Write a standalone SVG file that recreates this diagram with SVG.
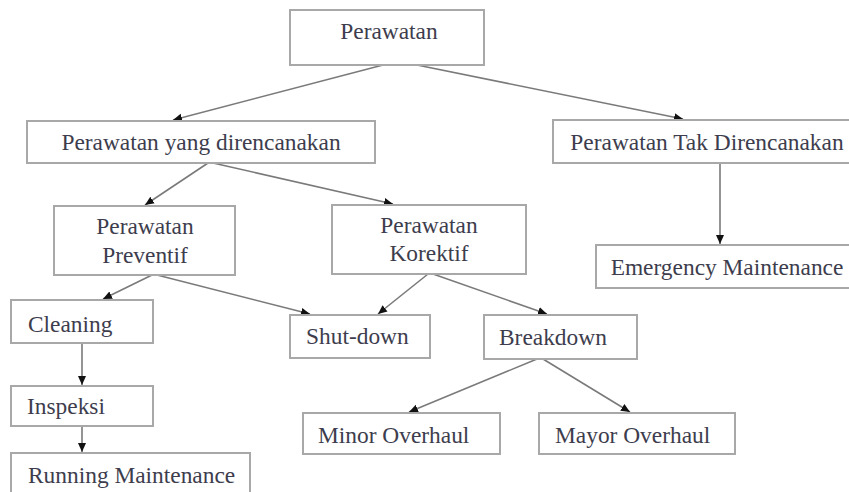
<svg xmlns="http://www.w3.org/2000/svg" width="849" height="492" viewBox="0 0 849 492">
<style>
.box{fill:#fff;stroke:#a8a8a8;stroke-width:2}
.t{font-family:"Liberation Serif","Times New Roman",serif;font-size:23.4px;fill:#3d3d4d}
.c{text-anchor:middle}
.ln{stroke:#7a7a7a;stroke-width:1.6;fill:none;marker-end:url(#ah)}
</style>
<defs>
<marker id="ah" markerUnits="userSpaceOnUse" markerWidth="10" markerHeight="10" viewBox="0 0 10 10" refX="9" refY="5" orient="auto">
<path d="M0,1 L9,5 L0,9 Z" fill="#111"/>
</marker>
</defs>
<rect width="849" height="492" fill="#fff"/>
<g id="connectors">
<line class="ln" x1="383" y1="65" x2="173" y2="120"/>
<line class="ln" x1="417" y1="65" x2="683" y2="119"/>
<line class="ln" x1="208" y1="163" x2="145" y2="205"/>
<line class="ln" x1="213" y1="163" x2="393" y2="204"/>
<line class="ln" x1="720" y1="163" x2="720" y2="244"/>
<line class="ln" x1="152" y1="275" x2="103" y2="299"/>
<line class="ln" x1="157" y1="275" x2="310" y2="314"/>
<line class="ln" x1="428" y1="274" x2="378" y2="314"/>
<line class="ln" x1="433" y1="274" x2="547" y2="314"/>
<line class="ln" x1="82" y1="343" x2="82" y2="385"/>
<line class="ln" x1="82" y1="426" x2="82" y2="452"/>
<line class="ln" x1="537" y1="359" x2="409" y2="412"/>
<line class="ln" x1="543" y1="359" x2="630" y2="412"/>
</g>
<g id="n-perawatan"><rect class="box" x="290" y="10" width="194" height="55"/><text class="t c" x="389" y="39">Perawatan</text></g>
<g id="n-direncanakan"><rect class="box" x="27" y="121" width="348" height="42"/><text class="t c" x="201" y="150">Perawatan yang direncanakan</text></g>
<g id="n-tak"><rect class="box" x="553" y="120" width="310" height="43"/><text class="t c" x="707" y="150">Perawatan Tak Direncanakan</text></g>
<g id="n-preventif"><rect class="box" x="54" y="206" width="181" height="69"/><text class="t c" x="145" y="234">Perawatan</text><text class="t c" x="145" y="263">Preventif</text></g>
<g id="n-korektif"><rect class="box" x="332" y="205" width="194" height="69"/><text class="t c" x="429" y="233">Perawatan</text><text class="t c" x="429" y="261">Korektif</text></g>
<g id="n-emergency"><rect class="box" x="596" y="245" width="267" height="43"/><text class="t c" x="727" y="275">Emergency Maintenance</text></g>
<g id="n-cleaning"><rect class="box" x="11" y="300" width="142" height="43"/><text class="t" x="28" y="332">Cleaning</text></g>
<g id="n-shutdown"><rect class="box" x="290" y="315" width="140" height="43"/><text class="t" x="306" y="344">Shut-down</text></g>
<g id="n-breakdown"><rect class="box" x="484" y="315" width="153" height="44"/><text class="t" x="499" y="345">Breakdown</text></g>
<g id="n-inspeksi"><rect class="box" x="11" y="386" width="142" height="40"/><text class="t" x="27" y="414">Inspeksi</text></g>
<g id="n-minor"><rect class="box" x="303" y="413" width="197" height="41"/><text class="t" x="318" y="443">Minor Overhaul</text></g>
<g id="n-mayor"><rect class="box" x="539" y="413" width="196" height="41"/><text class="t" x="555" y="443">Mayor Overhaul</text></g>
<g id="n-running"><rect class="box" x="11" y="453" width="239" height="50"/><text class="t" x="28" y="483">Running Maintenance</text></g>
</svg>
